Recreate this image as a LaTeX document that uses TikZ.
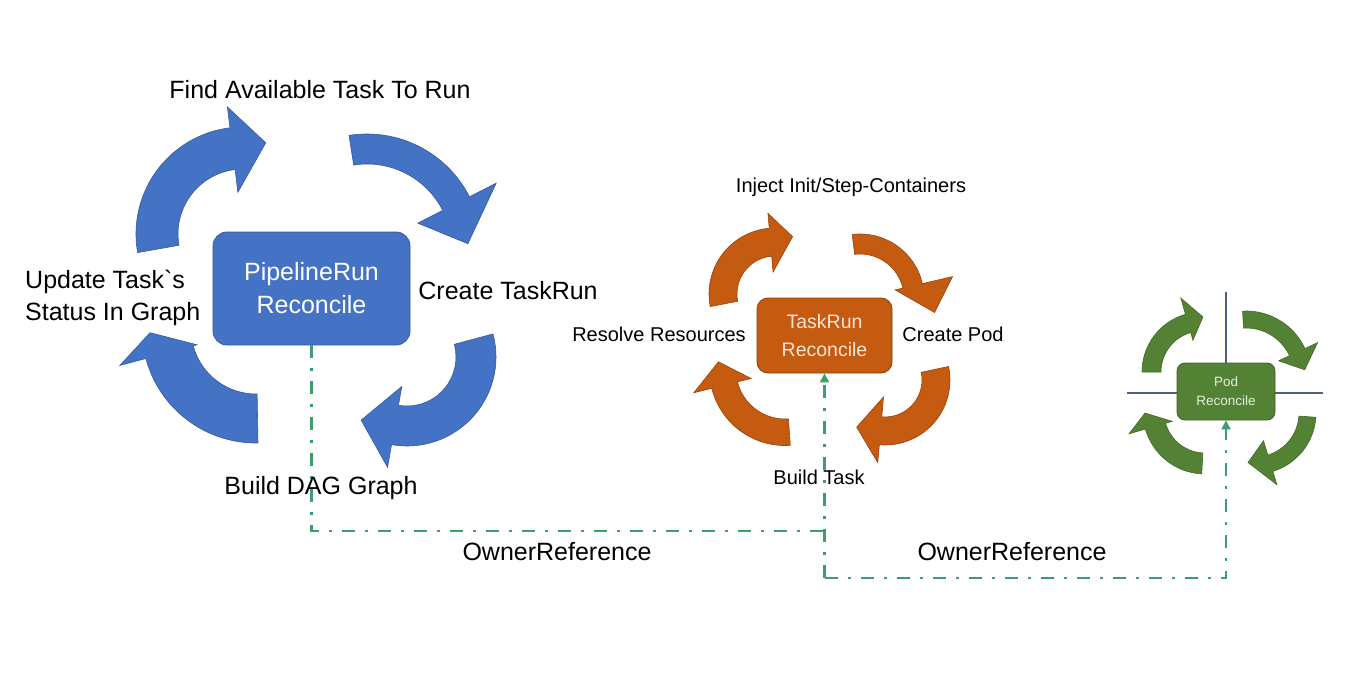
\documentclass[tikz,border=0pt]{standalone}
\usepackage{fontspec}
\setmainfont{Liberation Sans}
\usetikzlibrary{arrows.meta}

\definecolor{pipeblue}{RGB}{68,114,196}
\definecolor{taskorange}{RGB}{197,90,17}
\definecolor{podgreen}{RGB}{84,130,53}
\definecolor{ownergreen}{RGB}{60,160,108}
\definecolor{crossline}{RGB}{80,96,130}

% thick bent arrow: style, centre, outer r, inner r, start, base of head, barb out, barb in, tip
\newcommand{\turnarrow}[9]{%
  \begin{scope}[shift={#2}]
    \filldraw[#1] (#5:#3) arc[start angle=#5,end angle=#6,radius=#3]
      -- (#6:#7) -- (#9) -- (#6:#8) -- (#6:#4)
      arc[start angle=#6,end angle=#5,radius=#4] -- cycle;
  \end{scope}}

\tikzset{
  reconcile/.style={rectangle,align=center,inner sep=0pt,line width=0.8pt},
  pipearrow/.style={fill=pipeblue,draw=pipeblue!80!black,line width=0.6pt},
  taskarrow/.style={fill=taskorange,draw=taskorange!75!black,line width=0.6pt},
  podarrow/.style={fill=podgreen,draw=podgreen!80!black,line width=0.6pt},
  owner/.style={ownergreen,line width=2.8pt,dash pattern=on 13pt off 10pt on 3pt off 10pt},
  ownertip/.style={-{Triangle[length=9pt,width=9pt]}},
  biglbl/.style={font=\fontsize{25}{32}\selectfont,inner sep=0pt},
  midlbl/.style={font=\fontsize{20}{26}\selectfont,inner sep=0pt}
}

\begin{document}
\begin{tikzpicture}[x=1pt,y=-1pt]
  \fill[white] (0,0) rectangle (1366,690);
  \useasboundingbox (0,0) rectangle (1366,690);

  % cross behind the pod box
  \draw[crossline,line width=1.2pt] (1226,292) -- (1226,392) (1127,393) -- (1323,393);

  % boxes
  \node[reconcile,fill=pipeblue,draw=pipeblue!80!black,text=white,rounded corners=14pt,
    minimum width=197pt,minimum height=113pt,font=\fontsize{25}{33}\selectfont] (pipe) at (311.5,288.5) {PipelineRun\\Reconcile};
  \node[reconcile,fill=taskorange,draw=taskorange!70!black,text={rgb,255:red,251;green,229;blue,214},rounded corners=11pt,
    minimum width=135pt,minimum height=75pt,font=\fontsize{19.5}{28}\selectfont] (task) at (824.5,335.5) {TaskRun\\Reconcile};
  \node[reconcile,fill=podgreen,draw=podgreen!75!black,text={rgb,255:red,226;green,240;blue,217},rounded corners=8pt,
    minimum width=98pt,minimum height=57pt,font=\fontsize{13.5}{19}\selectfont] (pod) at (1226,391.5) {Pod\\Reconcile};

  % owner references
  \coordinate (joinA) at (824.5,531);
  \coordinate (joinB) at (824.5,578);
  \draw[owner] (pipe.south) |- (joinA);
  \draw[owner,ownertip] (joinB) -- (task.south);
  \draw[owner,ownertip] (joinB) -| (pod.south);

  % pipelinerun loop
  \turnarrow{pipearrow}{(243,234)}{107}{65}{170}{263}{128}{42}{284:94}
  \turnarrow{pipearrow}{(367,249)}{115}{85}{261}{333}{145}{57}{357:101}
  \turnarrow{pipearrow}{(407,357)}{89}{49}{345}{460}{112}{30}{486:78}
  \turnarrow{pipearrow}{(256,329)}{114}{65}{89}{165}{141}{61}{178:106}

  % taskrun loop
  \turnarrow{taskarrow}{(775,294)}{66}{38}{169}{265}{81}{22}{287:60}
  \turnarrow{taskarrow}{(860,298)}{64}{44}{263}{347}{95}{36}{371:76}
  \turnarrow{taskarrow}{(885,380)}{65}{37}{348}{455}{83}{17}{481:55}
  \turnarrow{taskarrow}{(785,370)}{75.5}{49}{86}{166}{94}{35}{187:67}

  % pod loop
  \turnarrow{podarrow}{(1202,372)}{60}{41}{180}{254}{77}{33}{271:55}
  \turnarrow{podarrow}{(1246,376)}{65}{48}{267}{335}{79}{36}{354:59}
  \turnarrow{podarrow}{(1255,413)}{61}{44}{4}{73}{75}{29}{98:50}
  \turnarrow{podarrow}{(1205,412)}{62}{41}{93}{164}{79}{34}{179:60}

  % labels
  \node[biglbl,anchor=base] (findlbl) at (320,99) {Find Available Task To Run};
  \node[biglbl,anchor=base] (createlbl) at (508,299) {Create TaskRun};
  \node[biglbl,anchor=base] (daglbl) at (321,494) {Build DAG Graph};
  \node[biglbl,anchor=west,align=left] (updatelbl) at (25,298) {Update Task\textasciigrave s\\Status In Graph};
  \node[midlbl,anchor=base] (injectlbl) at (851,193) {Inject Init/Step-Containers};
  \node[midlbl,anchor=base] (resolvelbl) at (659,341) {Resolve Resources};
  \node[midlbl,anchor=base] (createpodlbl) at (953,341) {Create Pod};
  \node[midlbl,anchor=base] (buildlbl) at (819,484) {Build Task};
  \node[biglbl,anchor=base] (ownerA) at (557,560) {OwnerReference};
  \node[biglbl,anchor=base] (ownerB) at (1012,560) {OwnerReference};
\end{tikzpicture}
\end{document}
